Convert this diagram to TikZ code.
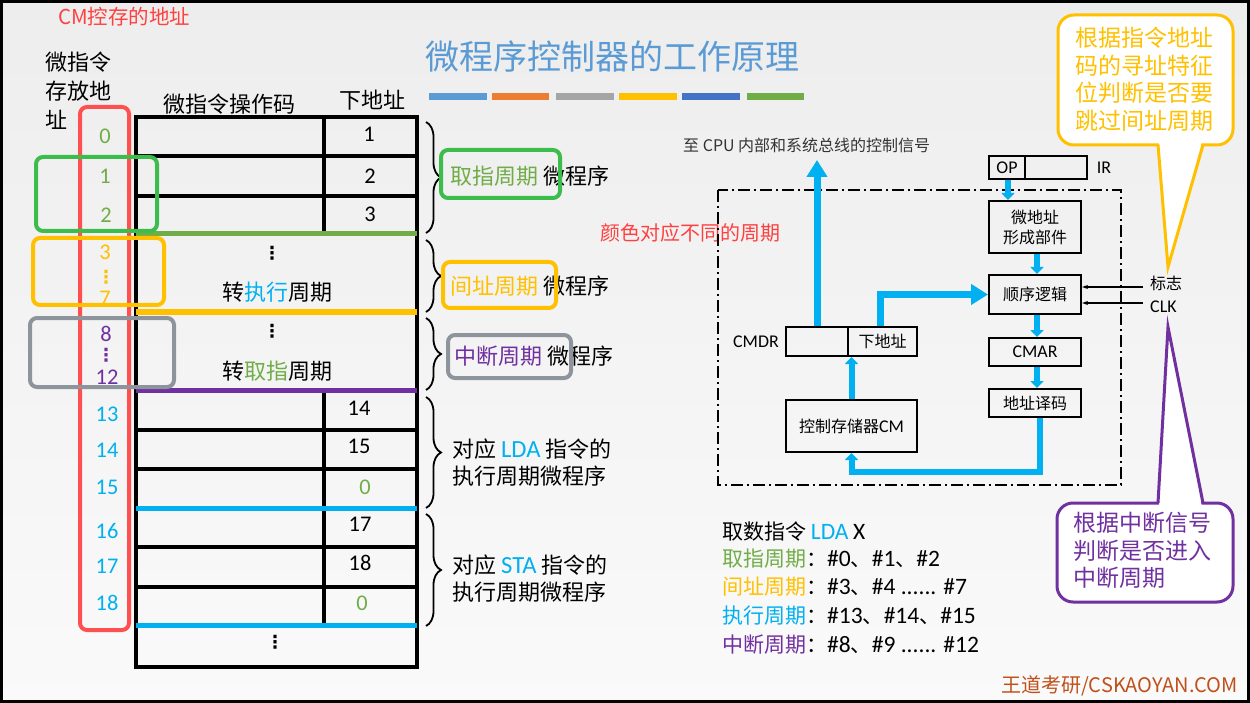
\documentclass[tikz,border=0pt]{standalone}
\usepackage{fontspec}
\setmainfont{Noto Sans CJK SC}
\newfontfamily\lat[Scale=1.12]{Carlito}
\newfontfamily\dv{DejaVu Sans}
\usetikzlibrary{arrows.meta,decorations.pathreplacing}

\definecolor{ttlblue}{HTML}{5B9BD5}
\definecolor{corange}{HTML}{ED7D31}
\definecolor{cgrey}{HTML}{A5A5A5}
\definecolor{cdkblue}{HTML}{4472C4}
\definecolor{cgreen}{HTML}{70AD47}
\definecolor{bgreen}{HTML}{3CBC4B}
\definecolor{cyel}{HTML}{FFC000}
\definecolor{cpurp}{HTML}{7030A0}
\definecolor{cblue}{HTML}{00B0F0}
\definecolor{cgray}{HTML}{8E949C}
\definecolor{cred}{HTML}{FF5050}
\definecolor{logo}{HTML}{C0501A}
\newcommand{\fs}[2]{\fontsize{#1}{#2}\selectfont}

\begin{document}
\begin{tikzpicture}[x=1pt, y=-1pt,
	tbl/.style={line width=3.5},
	bar/.style={line width=5},
	ring/.style={rounded corners=7, line width=4},
	brc/.style={decorate, decoration={brace, amplitude=15pt}, line width=1.8},
	blk/.style={draw, line width=2, inner sep=0, align=center, font=\fs{16pt}{20pt}},
	lbl/.style={inner sep=0, font=\fs{16pt}{20pt}},
	anum/.style={inner sep=0, font=\lat\fs{20pt}{24pt}},
	cjk/.style={inner sep=0, font=\fs{22pt}{27pt}},
	lst/.style={inner sep=0, anchor=west, font=\fs{21pt}{26pt}},
	vd/.style={inner sep=0, font=\dv\bfseries\fs{18pt}{20pt}},
	barrow/.style={cblue, line width=7, -{Triangle[width=20pt,length=17pt]}},
	sarrow/.style={cblue, line width=6, -{Triangle[width=13pt,length=7pt]}},
	thinarr/.style={line width=1.2, -{Stealth[length=6pt,width=4pt]}}]
	\useasboundingbox (0,0) rectangle (1250,703);
	\shade[top color=black!7, bottom color=black!2] (0,0) rectangle (1250,703);
	\draw[line width=3] (1.5,1.5) rectangle (1248.5,701.5);

	% title
	\node[inner sep=0, font=\fs{34pt}{40pt}, ttlblue] (title) at (612,57) {微程序控制器的工作原理};
	\fill[ttlblue] (429,93) rectangle (487,100);
	\fill[corange] (492,93) rectangle (549,100);
	\fill[cgrey] (556,93) rectangle (614,100);
	\fill[cyel] (619,93) rectangle (677,100);
	\fill[cdkblue] (682,93) rectangle (740,100);
	\fill[cgreen] (747,93) rectangle (804,100);

	\node[inner sep=0, anchor=west, font=\fs{20.5pt}{24pt}, red!75!white] (cmaddr) at (58,17) {CM控存的地址};
	\node[inner sep=0, anchor=north west, align=left, font=\fs{22pt}{29pt}] (addrhd) at (45,52) {微指令\\存放地\\址};
	\node[cjk] (h1) at (229,104) {微指令操作码};
	\node[cjk] (h2) at (372,100) {下地址};

	% micro program table
	\draw[tbl] (136,117) rectangle (417,667);
	\draw[tbl] (136,156) -- (417,156) (136,196) -- (417,196);
	\draw[tbl] (324,117) -- (324,234);
	\draw[tbl] (136,430) -- (417,430) (136,469) -- (417,469) (136,547) -- (417,547) (136,587) -- (417,587);
	\draw[tbl] (324,390) -- (324,625);
	\draw[bar, cgreen] (136,234) -- (417,234);
	\draw[bar, cyel] (136,312) -- (417,312);
	\draw[bar, cpurp] (136,390) -- (417,390);
	\draw[bar, cblue] (136,508) -- (417,508);
	\draw[bar, cblue] (136,625) -- (417,625);

	\node[anum] (n1) at (369,134) {1};
	\node[anum] (n2) at (370,176) {2};
	\node[anum] (n3) at (370,214) {3};
	\node[vd] (d1) at (272,253) {⋮};
	\node[cjk] (j1) at (277,292) {转\textcolor{cblue}{执行}周期};
	\node[vd] (d2) at (272,331) {⋮};
	\node[cjk] (j2) at (277,371) {转\textcolor{cgreen}{取指}周期};
	\node[anum] (n14) at (359,408) {14};
	\node[anum] (n15) at (359,446) {15};
	\node[anum, cgreen] (n0a) at (365,487) {0};
	\node[anum] (n17) at (360,524) {17};
	\node[anum] (n18) at (360,563) {18};
	\node[anum, cgreen] (n0b) at (362,603) {0};
	\node[vd] (d3) at (275,642) {⋮};

	% addresses
	\node[anum, cgreen] (a0) at (105,136) {0};
	\node[anum, cgreen] (a1) at (105,176) {1};
	\node[anum, cgreen] (a2) at (106,215) {2};
	\node[anum, cyel] (a3) at (105,252) {3};
	\node[vd, cyel] (ad1) at (106,277) {⋮};
	\node[anum, cyel] (a7) at (105,298) {7};
	\node[anum, cpurp] (a8) at (106,334) {8};
	\node[vd, cpurp] (ad2) at (106,355) {⋮};
	\node[anum, cpurp] (a12) at (107,377) {12};
	\node[anum, cblue] (a13) at (107,414) {13};
	\node[anum, cblue] (a14) at (107,450) {14};
	\node[anum, cblue] (a15) at (107,487) {15};
	\node[anum, cblue] (a16) at (107,531) {16};
	\node[anum, cblue] (a17) at (107,566) {17};
	\node[anum, cblue] (a18) at (107,603) {18};

	\draw[cred, ring] (80,107) rectangle (129,630);
	\draw[bgreen, ring] (36,157) rectangle (157,231);
	\draw[cyel, ring] (33,238) rectangle (164,305);
	\draw[cgray, ring] (30,318) rectangle (174,387);

	% braces and labels
	\draw[brc] (426,122) -- (426,233);
	\draw[brc] (426,240) -- (426,312);
	\draw[brc] (426,318) -- (426,390);
	\draw[brc] (426,397) -- (426,508);
	\draw[brc] (426,514) -- (426,626);
	\node[cjk, anchor=west] (fetch) at (450,176) {\textcolor{cgreen}{取指周期} 微程序};
	\node[cjk, anchor=west] (indir) at (450,286) {\textcolor{cyel}{间址周期} 微程序};
	\node[cjk, anchor=west] (intr) at (454,356) {\textcolor{cpurp}{中断周期} 微程序};
	\draw[bgreen, ring] (441,150) rectangle (560,198);
	\draw[cyel, ring] (443,262) rectangle (556,308);
	\draw[cgray, ring] (448,335) rectangle (571,378);
	\node[cjk, anchor=west, align=left] (lda) at (452,463) {对应 \textcolor{cblue}{\lat LDA} 指令的\\执行周期微程序};
	\node[cjk, anchor=west, align=left] (sta) at (452,579) {对应 \textcolor{cblue}{\lat STA} 指令的\\执行周期微程序};
	\node[inner sep=0, anchor=west, font=\fs{20pt}{24pt}, red!75!white] (clr) at (600,233) {颜色对应不同的周期};

	% control unit
	\node[lbl, anchor=west, black!80] (sigtxt) at (683,145) {至 CPU 内部和系统总线的控制信号};
	\draw[line width=2, dash pattern=on 12pt off 4pt on 2pt off 4pt] (718,190) rectangle (1121,485);
	\node[blk, minimum width=36, minimum height=23] (op) at (1007,167.5) {\lat OP};
	\node[blk, minimum width=62, minimum height=23] (irf) at (1056,167.5) {};
	\node[lbl] (irl) at (1104,168) {\lat IR};
	\node[blk, minimum width=92, minimum height=52] (uad) at (1035,227) {微地址\\形成部件};
	\node[blk, minimum width=92, minimum height=39] (seq) at (1035,294.5) {顺序逻辑};
	\node[blk, minimum width=92, minimum height=28] (cmar) at (1035,352) {\lat CMAR};
	\node[blk, minimum width=92, minimum height=28] (dec) at (1035,403) {地址译码};
	\node[blk, minimum width=62, minimum height=29] (cmdr) at (817,341.5) {};
	\node[blk, minimum width=69, minimum height=29] (nxt) at (882.5,341.5) {下地址};
	\node[lbl, anchor=east] (cmdrl) at (779,341.5) {\lat CMDR};
	\node[blk, minimum width=131, minimum height=52] (cm) at (851.5,426) {控制存储器{\lat CM}};

	\coordinate (sig) at (817,160);
	\coordinate (turn) at (1040,472);
	\draw[barrow] (cmdr.north) -- (sig);
	\draw[barrow] ([xshift=-2.5]nxt.north) |- (seq.west);
	\draw[sarrow] (cm.north) -- (cm.north |- nxt.south);
	\draw[sarrow] ([xshift=1]op.south) -- ([xshift=1]op.south |- uad.north);
	\draw[sarrow] ([xshift=2]uad.south) -- ([xshift=2]seq.north);
	\draw[sarrow] ([xshift=2]seq.south) -- ([xshift=2]cmar.north);
	\draw[sarrow] ([xshift=2]cmar.south) -- ([xshift=2]dec.north);
	\draw[sarrow] (dec.south -| turn) -- (turn) -| (cm.south);

	\coordinate (fl) at (1143,287);
	\coordinate (ck) at (1143,303);
	\draw[thinarr] (fl) -- (seq.east |- fl);
	\draw[thinarr] (ck) -- (seq.east |- ck);
	\node[lbl, anchor=west] (flag) at (1150,283) {标志};
	\node[lbl, anchor=west] (clk) at (1150,307) {\lat CLK};

	% callouts
	\draw[cyel, fill=white, line width=3, rounded corners=16] (1058,15) rectangle (1233,145);
	\fill[white] (1159,141) -- (1202,141) -- (1168,267) -- cycle;
	\draw[cyel, line width=3] (1158,145) -- (1168,267) -- (1203,145);
	\node[inner sep=0, anchor=north west, align=left, font=\fs{23pt}{27.5pt}, cyel] (hint1) at (1075,27) {根据指令地址\\码的寻址特征\\位判断是否要\\跳过间址周期};

	\draw[cpurp, fill=white, line width=3, rounded corners=16] (1057,503) rectangle (1233,602);
	\fill[white] (1159,507) -- (1202,507) -- (1168,327) -- cycle;
	\draw[cpurp, line width=3] (1158,503) -- (1168,327) -- (1203,503);
	\node[inner sep=0, anchor=north west, align=left, font=\fs{23pt}{27.5pt}, cpurp] (hint2) at (1073,512) {根据中断信号\\判断是否进入\\中断周期};

	% cycle list
	\node[lst] (l0) at (722,532) {取数指令 \textcolor{cblue}{\lat LDA} {\lat X}};
	\node[lst] (l1) at (722,559) {\textcolor{cgreen}{取指周期}：{\lat\#0}、{\lat\#1}、{\lat\#2}};
	\node[lst] (l2) at (722,587) {\textcolor{cyel}{间址周期}：{\lat\#3}、{\lat\#4 ...... \#7}};
	\node[lst] (l3) at (722,616) {\textcolor{cblue}{执行周期}：{\lat\#13}、{\lat\#14}、{\lat\#15}};
	\node[lst] (l4) at (722,645) {\textcolor{cpurp}{中断周期}：{\lat\#8}、{\lat\#9 ...... \#12}};

	\node[inner sep=0, anchor=east, font=\fs{20pt}{24pt}, logo] (brand) at (1238,686) {王道考研/CSKAOYAN.COM};
\end{tikzpicture}
\end{document}
